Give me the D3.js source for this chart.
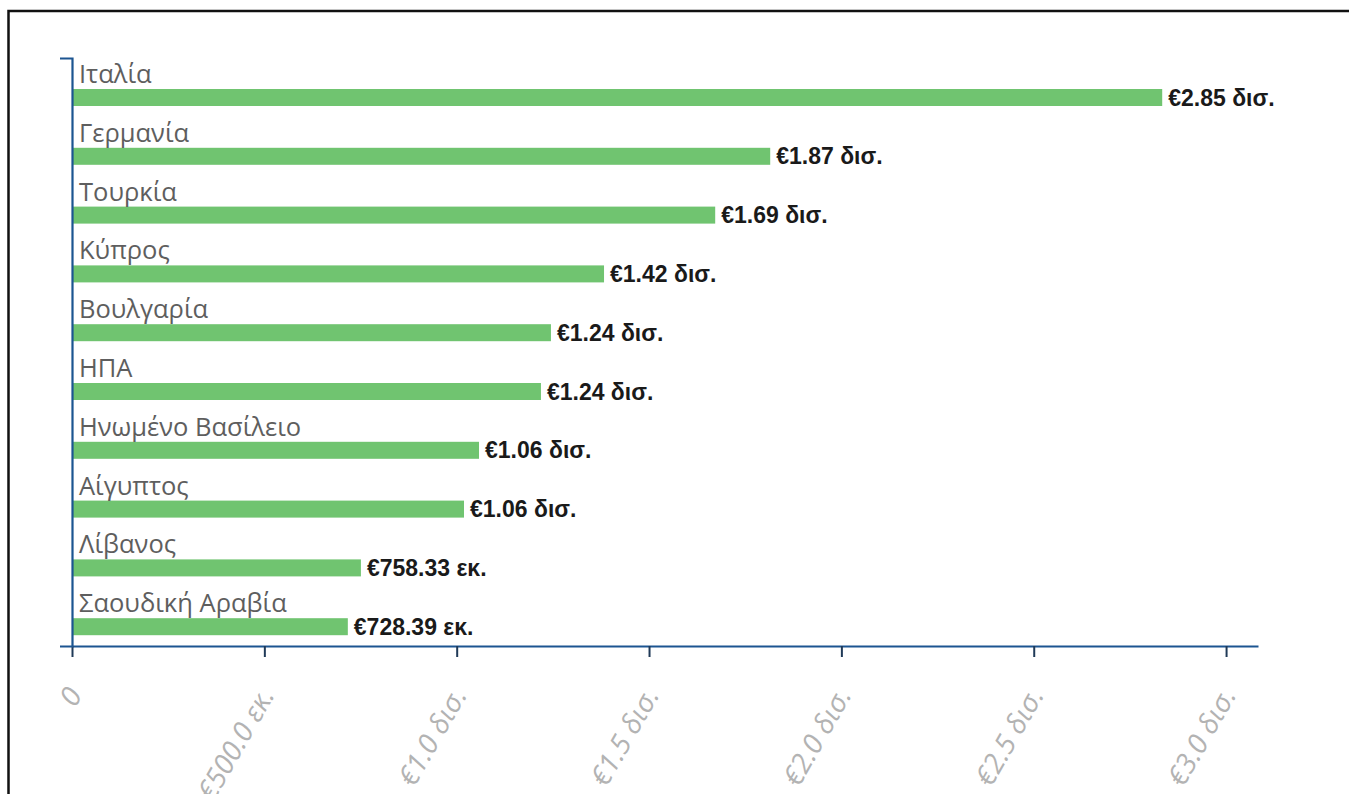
<!DOCTYPE html>
<html>
<head>
<meta charset="utf-8">
<script src="https://cdn.jsdelivr.net/npm/d3@7"></script>
<style>
  html, body { margin: 0; padding: 0; background: #fff; }
  svg { display: block; }
</style>
</head>
<body>
<svg id="chart" width="1349" height="794"></svg>
<script>
// ---- data ----
const categories = ["Ιταλία", "Γερμανία", "Τουρκία", "Κύπρος", "Βουλγαρία", "ΗΠΑ",
  "Ηνωμένο Βασίλειο", "Αίγυπτος", "Λίβανος", "Σαουδική Αραβία"];
const values = [2.834, 1.815, 1.672, 1.383, 1.245, 1.219, 1.058, 1.019, 0.751, 0.717];
const valueLabels = ["€2.85 δισ.", "€1.87 δισ.", "€1.69 δισ.", "€1.42 δισ.", "€1.24 δισ.",
  "€1.24 δισ.", "€1.06 δισ.", "€1.06 δισ.", "€758.33 εκ.", "€728.39 εκ."];
const tickValues = [0, 0.5, 1.0, 1.5, 2.0, 2.5, 3.0];
const tickLabels = ["0", "€500.0 εκ.", "€1.0 δισ.", "€1.5 δισ.", "€2.0 δισ.", "€2.5 δισ.", "€3.0 δισ."];
const xMax = 3.083;

// ---- layout ----
const svg = d3.select("#chart");
const mLeft = 72, mRight = 1258, mTop = 58, mBottom = 646;

svg.append("rect")
  .attr("x", 8.5).attr("y", 11)
  .attr("width", 1500).attr("height", 1000)
  .attr("fill", "none").attr("stroke", "#111").attr("stroke-width", 2.5);

const x = d3.scaleLinear().domain([0, xMax]).range([mLeft, mRight]);
const y = d3.scaleBand().domain(categories).range([mTop, mBottom]).padding(0);

const g = svg.append("g");

// bars
g.selectAll("rect.bar").data(categories).join("rect")
  .attr("class", "bar")
  .attr("x", x(0))
  .attr("y", d => y(d) + 31)
  .attr("width", (d, i) => x(values[i]) - x(0))
  .attr("height", 17)
  .attr("fill", "#70c470");

// category labels
g.selectAll("text.cat").data(categories).join("text")
  .attr("class", "cat")
  .attr("x", mLeft + 7)
  .attr("y", d => y(d) + 25)
  .attr("font-family", "'Open Sans', sans-serif")
  .attr("font-size", 25.5)
  .attr("fill", "#5e5e5e")
  .text(d => d);

// value labels
g.selectAll("text.val").data(categories).join("text")
  .attr("class", "val")
  .attr("x", (d, i) => x(values[i]) + 6)
  .attr("y", d => y(d) + 47.5)
  .attr("font-family", "'Liberation Sans', Arial, sans-serif")
  .attr("font-weight", "bold")
  .attr("font-size", 23)
  .attr("fill", "#1a1a1a")
  .text((d, i) => valueLabels[i]);

// x axis
const xAxis = d3.axisBottom(x)
  .tickValues(tickValues)
  .tickSize(11)
  .tickSizeOuter(0)
  .tickFormat((d, i) => tickLabels[i]);
const gx = svg.append("g").attr("transform", `translate(0,${mBottom})`).call(xAxis);
gx.select(".domain").attr("stroke", "#1c5591").attr("stroke-width", 2.2);
gx.selectAll(".tick line").attr("stroke", "#203a58").attr("stroke-width", 2);
gx.selectAll(".tick text")
  .attr("x", 0).attr("y", 0).attr("dy", "0.35em")
  .attr("text-anchor", "end")
  .attr("transform", "translate(2,44) rotate(-60)")
  .attr("font-family", "'Open Sans', sans-serif")
  .attr("font-style", "italic")
  .attr("font-size", 28)
  .attr("fill", "#b3b3b3");

// y axis
const yAxis = d3.axisLeft(y).tickSize(0).tickSizeOuter(12).tickFormat("");
const gy = svg.append("g").attr("transform", `translate(${mLeft},0)`).call(yAxis);
gy.select(".domain").attr("stroke", "#1c5591").attr("stroke-width", 2.2);
</script>
</body>
</html>
